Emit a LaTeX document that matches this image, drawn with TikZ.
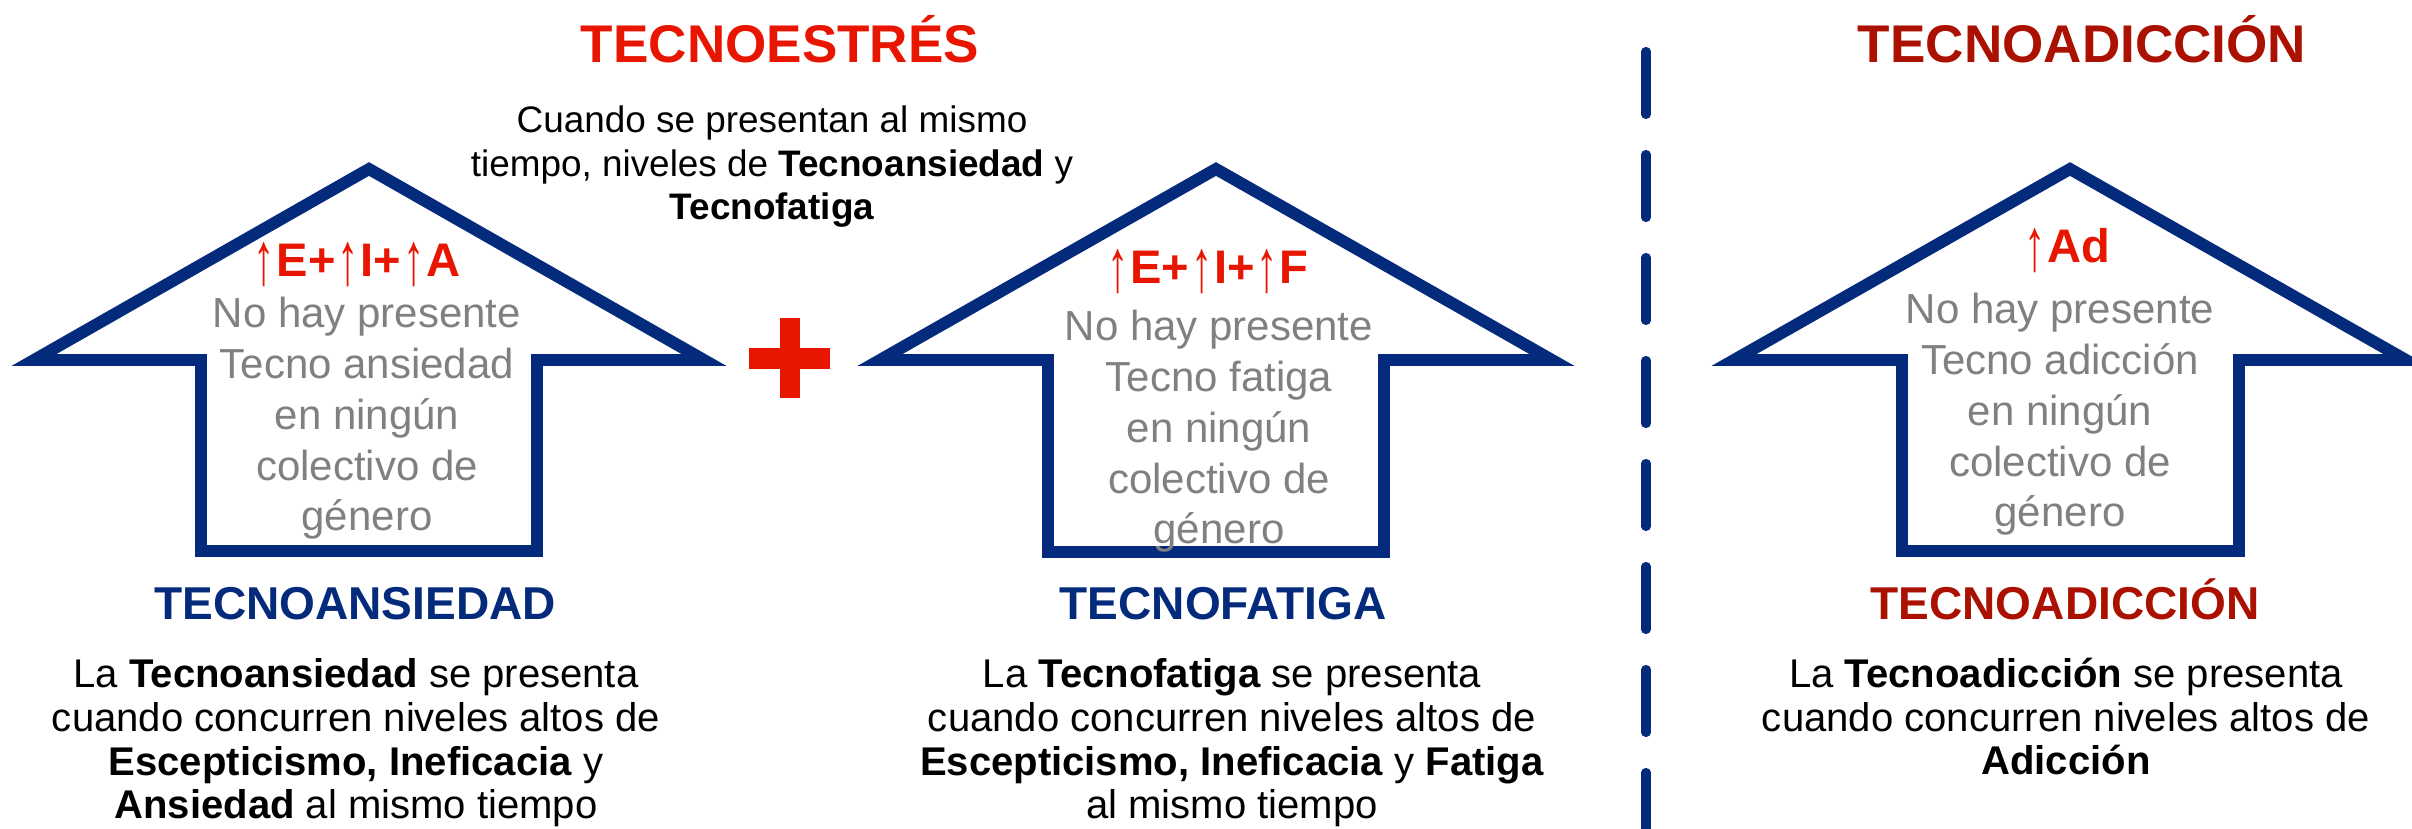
\documentclass[tikz,border=0pt]{standalone}
\usepackage{graphicx}
\usepackage{fontspec}
\setmainfont{Liberation Sans}
\definecolor{navy}{RGB}{4,42,124}
\definecolor{plusred}{RGB}{232,22,0}
\definecolor{darkred}{RGB}{170,17,0}
\definecolor{textgray}{RGB}{128,128,128}
\newcommand{\incr}{{\mdseries\kern0.04em\raisebox{-0.21em}{\resizebox{0.45em}{0.94em}{\raisebox{\depth}{↑}}}\kern0.04em}}
\tikzset{
    arrowline/.style = {line width=3.4pt,draw=navy,line join=miter},
    divider/.style = {line width=2.6pt,draw=navy,line cap=round,dash pattern=on 0.63cm off 0.40cm},
    plusbar/.style = {fill=plusred,draw=none},
    toptitle/.style = {anchor=base,font=\fontsize{15.1pt}{18pt}\selectfont\bfseries},
    subtitle/.style = {anchor=base,font=\fontsize{13.1pt}{16pt}\selectfont\bfseries},
    formula/.style = {anchor=base,text=plusred,font=\fontsize{13.4pt}{16pt}\selectfont\bfseries},
    graytext/.style = {anchor=base,align=center,text=textgray,font=\fontsize{11.95pt}{14.5pt}\selectfont}, % base = last line
    bodytext/.style = {anchor=base,align=center,font=\fontsize{11.4pt}{12.5pt}\selectfont},
    intro/.style = {anchor=base,align=center,font=\fontsize{10.5pt}{12.5pt}\selectfont}
}
\begin{document}
\begin{tikzpicture}
\path[use as bounding box] (0,0) rectangle (24.12,-8.29);
%
% titles
\node[toptitle,text=plusred] at (7.80,-0.63) (estres) {TECNOESTRÉS};
\node[toptitle,text=darkred] at (20.82,-0.63) (adiccion) {TECNOADICCIÓN};
\node[intro] at (7.72,-2.20) (union) {Cuando se presentan al mismo\\tiempo, niveles de \textbf{Tecnoansiedad} y\\\textbf{Tecnofatiga}};
%
% arrows
\draw[arrowline] (0.34,-3.60) -- (3.69,-1.69) -- (7.04,-3.60) -- (5.37,-3.60) -- (5.37,-5.51) -- (2.01,-5.51) -- (2.01,-3.60) -- cycle;
\draw[arrowline] (8.80,-3.60) -- (12.16,-1.69) -- (15.52,-3.60) -- (13.84,-3.60) -- (13.84,-5.52) -- (10.48,-5.52) -- (10.48,-3.60) -- cycle;
\draw[arrowline] (17.34,-3.60) -- (20.70,-1.69) -- (24.06,-3.60) -- (22.39,-3.60) -- (22.39,-5.51) -- (19.02,-5.51) -- (19.02,-3.60) -- cycle;
%
% plus and divider
\fill[plusbar] (7.80,-3.18) rectangle (8.00,-3.98);
\fill[plusbar] (7.49,-3.48) rectangle (8.30,-3.69);
\draw[divider] (16.46,-0.515) -- (16.46,-8.45);
%
% inside the arrows
\node[formula] at (3.56,-2.77) (fa) {\incr E+\incr I+\incr A};
\node[graytext] at (3.67,-5.31) (ga) {No hay presente\\Tecno ansiedad\\en ningún\\colectivo de\\género};
\node[formula] at (12.07,-2.84) (ff) {\incr E+\incr I+\incr F};
\node[graytext] at (12.19,-5.44) (gf) {No hay presente\\Tecno fatiga\\en ningún\\colectivo de\\género};
\node[formula] at (20.66,-2.63) (fd) {\incr Ad};
\node[graytext] at (20.60,-5.27) (gd) {No hay presente\\Tecno adicción\\en ningún\\colectivo de\\género};
%
% below the arrows
\node[subtitle,text=navy] at (3.55,-6.20) (ansiedad) {TECNOANSIEDAD};
\node[subtitle,text=navy] at (12.23,-6.20) (fatiga) {TECNOFATIGA};
\node[subtitle,text=darkred] at (20.65,-6.20) (adiccionb) {TECNOADICCIÓN};
\node[bodytext] at (3.56,-8.19) (ba) {La \textbf{Tecnoansiedad} se presenta\\cuando concurren niveles altos de\\\textbf{Escepticismo, Ineficacia} y\\\textbf{Ansiedad} al mismo tiempo};
\node[bodytext] at (12.32,-8.19) (bf) {La \textbf{Tecnofatiga} se presenta\\cuando concurren niveles altos de\\\textbf{Escepticismo, Ineficacia} y \textbf{Fatiga}\\al mismo tiempo};
\node[bodytext] at (20.66,-7.75) (bd) {La \textbf{Tecnoadicción} se presenta\\cuando concurren niveles altos de\\\textbf{Adicción}};
\end{tikzpicture}
\end{document}
